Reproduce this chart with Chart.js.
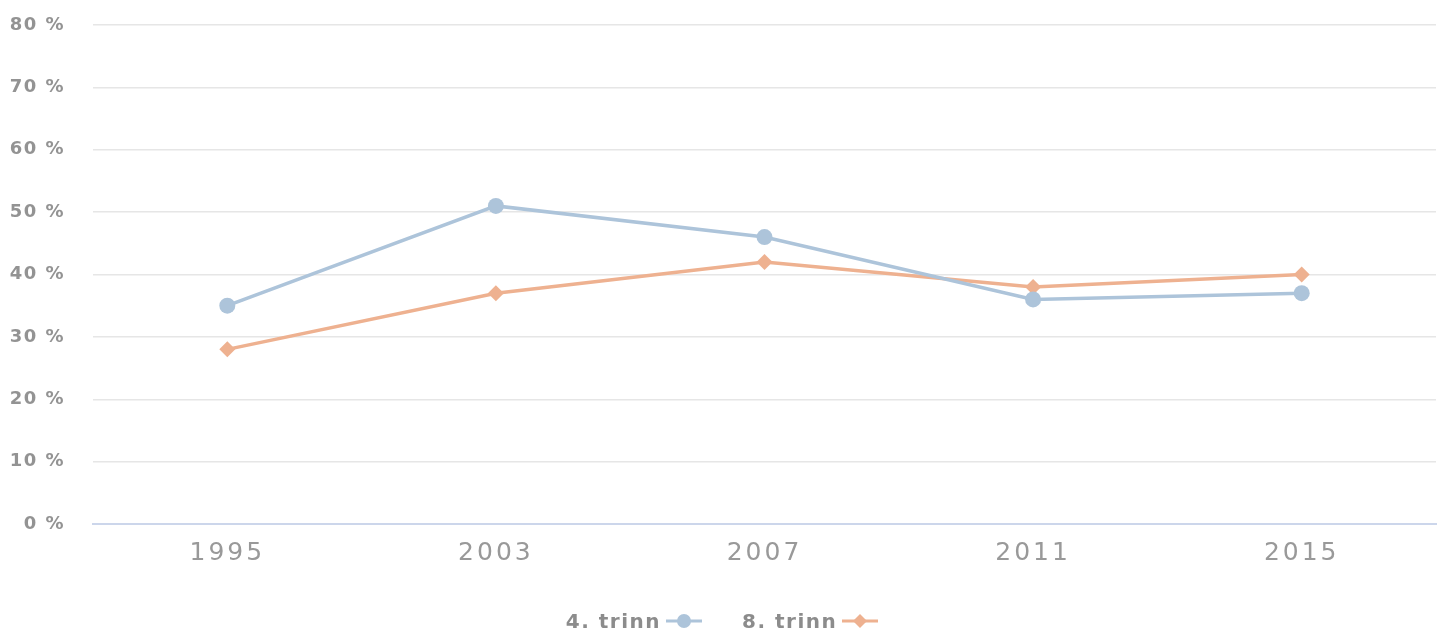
<!DOCTYPE html>
<html>
<head>
<meta charset="utf-8">
<script src="https://cdn.jsdelivr.net/npm/chart.js@4/dist/chart.umd.min.js"></script>
<style>
  html, body { margin: 0; padding: 0; background: #fff; }
  #wrap { position: relative; width: 1444px; height: 634px; }
  #legend {
    position: absolute; left: 0; right: 0; top: 607px; height: 28px; line-height: 28px;
    text-align: center; font-family: "DejaVu Sans", sans-serif; font-weight: bold;
    font-size: 20px; color: #8c8c8c;
  }
  #legend span.item { display: inline-block; margin: 0 20px; white-space: nowrap; }
  #legend span.txt { letter-spacing: 1.5px; }
  #legend canvas { vertical-align: middle; margin-left: 5px; position: relative; top: -2px; }
</style>
</head>
<body>
<div id="wrap">
  <canvas id="trinnChart" width="1444" height="634"></canvas>
  <div id="legend"></div>
</div>
<script>
const years = ["1995", "2003", "2007", "2011", "2015"];
const trinn4 = [35, 51, 46, 36, 37];
const trinn8 = [28, 37, 42, 38, 40];
const yTicks = [0, 10, 20, 30, 40, 50, 60, 70, 80];

const blue = "#adc4da";
const orange = "#eeb190";

// per-axis letter spacing on the tick labels
function spaced(scale, px) {
  if (scale._spaced) return;
  const orig = scale.drawLabels.bind(scale);
  scale.drawLabels = function (area) {
    const c = scale.ctx;
    const prev = c.letterSpacing;
    c.letterSpacing = px;
    orig(area);
    c.letterSpacing = prev;
  };
  scale._spaced = true;
}

const letterSpacing = {
  id: "letterSpacing",
  afterLayout(chart) {
    spaced(chart.scales.x, "3px");
    spaced(chart.scales.y, "1.5px");
  },
};

const ctx = document.getElementById("trinnChart").getContext("2d");
const chart = new Chart(ctx, {
  type: "line",
  data: {
    labels: years,
    datasets: [
      {
        label: "4. trinn",
        data: trinn4,
        borderColor: blue,
        backgroundColor: blue,
        borderWidth: 3.5,
        pointStyle: "circle",
        pointRadius: 8,
        pointHoverRadius: 8,
        pointBorderWidth: 0,
        tension: 0,
      },
      {
        label: "8. trinn",
        data: trinn8,
        borderColor: orange,
        backgroundColor: orange,
        borderWidth: 3.5,
        pointStyle: "rectRot",
        pointRadius: 8,
        pointHoverRadius: 8,
        pointBorderWidth: 0,
        tension: 0,
      },
    ],
  },
  options: {
    responsive: false,
    animation: false,
    layout: { padding: { top: 25, right: 8, left: 0, bottom: 0 } },
    scales: {
      x: {
        offset: true,
        grid: { display: false, drawTicks: false },
        border: { color: "#ccd6eb", width: 2 },
        ticks: {
          color: "#999999",
          padding: 14,
          font: { family: "DejaVu Sans", size: 25 },
        },
        afterFit: (s) => {
          s.height = 110;
          s.paddingLeft = 0;
          s.paddingRight = 0;
        },
      },
      y: {
        min: 0,
        max: 80,
        afterBuildTicks: (s) => { s.ticks = yTicks.map((v) => ({ value: v })); },
        grid: { color: "#e6e6e6", lineWidth: 1.5, drawTicks: false },
        border: { display: false },
        ticks: {
          color: "#939393",
          padding: 28,
          font: { family: "DejaVu Sans", size: 18, weight: "bold" },
          callback: (v) => v + " %",
        },
        afterFit: (s) => {
          s.width = 93;
          s.paddingTop = 0;
          s.paddingBottom = 0;
        },
      },
    },
    plugins: {
      legend: { display: false },
      tooltip: { enabled: false },
    },
  },
  plugins: [letterSpacing],
});
chart.draw();

// legend: text first, then line with marker
const legendEl = document.getElementById("legend");
chart.data.datasets.forEach((ds) => {
  const item = document.createElement("span");
  item.className = "item";
  const txt = document.createElement("span");
  txt.className = "txt";
  txt.textContent = ds.label;
  item.appendChild(txt);
  const c = document.createElement("canvas");
  c.width = 36; c.height = 20;
  const g = c.getContext("2d");
  g.strokeStyle = ds.borderColor;
  g.lineWidth = 3;
  g.beginPath(); g.moveTo(0, 10); g.lineTo(36, 10); g.stroke();
  g.fillStyle = ds.backgroundColor;
  Chart.helpers.drawPoint(g, { pointStyle: ds.pointStyle, radius: 7, borderWidth: 0 }, 18, 10);
  item.appendChild(c);
  legendEl.appendChild(item);
});
</script>
</body>
</html>
